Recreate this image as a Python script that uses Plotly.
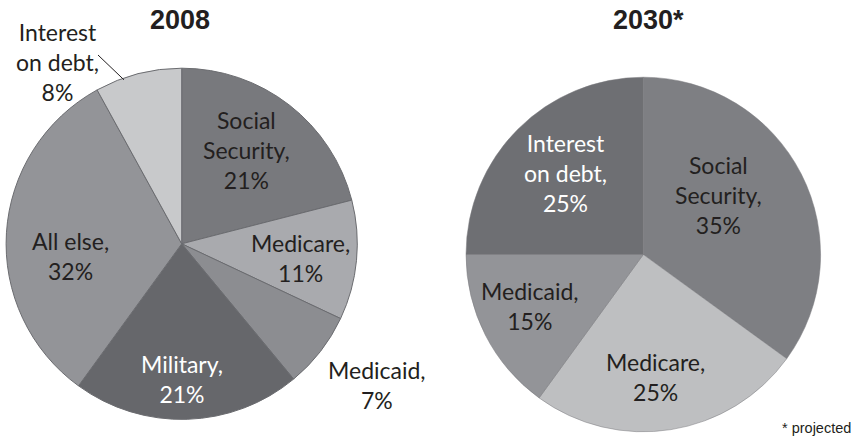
import math
import plotly.graph_objects as go

W, H = 859, 438

# ---- data ----
cats_2008 = ["Social Security", "Medicare", "Medicaid", "Military", "All else", "Interest on debt"]
vals_2008 = [21, 11, 7, 21, 32, 8]
disp_2008 = ["Social<br>Security,", "Medicare,", "Medicaid,", "Military,", "All else,", "Interest<br>on debt,"]

cats_2030 = ["Social Security", "Medicare", "Medicaid", "Interest on debt"]
vals_2030 = [35, 25, 15, 25]
disp_2030 = ["Social<br>Security,", "Medicare,", "Medicaid,", "Interest<br>on debt,"]

titles = ["2008", "2030*"]
footnote = "* projected"

# ---- style ----
colors_2008 = ["#78797d", "#a9aaae", "#8c8d91", "#66676b", "#939498", "#c8c9cb"]
colors_2030 = ["#7e7f83", "#bebfc1", "#939498", "#6e6f73"]
txtcol_2008 = ["#231f20", "#231f20", "#231f20", "#ffffff", "#231f20", "#231f20"]
txtcol_2030 = ["#231f20", "#231f20", "#231f20", "#ffffff"]
# label placement: radial factor and angular offset (deg) relative to slice middle
k_2008 = [0.650, 0.682, 1.371, 0.770, 0.636, 1.256]
off_2008 = [-3.1, 1.2, -1.9, 1.8, -9.9, -20.0]
k_2030 = [0.540, 0.697, 0.702, 0.633]
off_2030 = [-11.4, 3.2, 2.6, 1.2]

# pie geometry in pixels (center x, center y from top, radius)
geo = [(181.7, 243.8, 175.6), (643.3, 254.5, 177.3)]

FONT = "Lato"
FS = 23


def domain(cx, cy, r):
    return dict(x=[(cx - r) / W, (cx + r) / W], y=[1 - (cy + r) / H, 1 - (cy - r) / H])


def polar(cx, cy, r, ang_deg, k):
    a = math.radians(ang_deg)
    px = cx + k * r * math.sin(a)
    py = cy - k * r * math.cos(a)
    return px / W, 1 - py / H


fig = go.Figure()
fig.add_trace(go.Pie(
    labels=cats_2008, values=vals_2008, sort=False, direction="clockwise", rotation=0,
    marker=dict(colors=colors_2008, line=dict(color="#6b6c70", width=1)),
    textinfo="none", hoverinfo="skip", domain=domain(*geo[0]),
))
fig.add_trace(go.Pie(
    labels=cats_2030, values=vals_2030, sort=False, direction="clockwise", rotation=0,
    marker=dict(colors=colors_2030, line=dict(color="#7a7b7f", width=0.5)),
    textinfo="none", hoverinfo="skip", domain=domain(*geo[1]),
))

annotations = []
shapes = []


def add_labels(vals, disp, tcols, ks, offs, g):
    cx, cy, r = g
    total = sum(vals)
    cum = 0
    for v, d, tc, k, off in zip(vals, disp, tcols, ks, offs):
        mid = 360.0 * (cum + v / 2) / total
        cum += v
        x, y = polar(cx, cy, r, mid + off, k)
        annotations.append(dict(
            x=x, y=y, xref="paper", yref="paper", showarrow=False,
            text=f"{d}<br>{v}%", align="center", xanchor="center", yanchor="middle",
            font=dict(family=FONT, size=FS, color=tc),
        ))


add_labels(vals_2008, disp_2008, txtcol_2008, k_2008, off_2008, geo[0])
add_labels(vals_2030, disp_2030, txtcol_2030, k_2030, off_2030, geo[1])

# leader line for the 2008 "Interest on debt" slice
cx, cy, r = geo[0]
mid_int = 360.0 * (sum(vals_2008[:-1]) + vals_2008[-1] / 2) / sum(vals_2008)
ex, ey = polar(cx, cy, r, mid_int - 5, 0.99)
shapes.append(dict(type="line", xref="paper", yref="paper",
                   x0=98 / W, y0=1 - 55 / H, x1=ex, y1=ey,
                   line=dict(color="#231f20", width=1)))

# titles
for t, g in zip(titles, geo):
    annotations.append(dict(
        x=(g[0] - 2 if t == "2008" else g[0] + 5) / W, y=1 - 20 / H, xref="paper", yref="paper",
        showarrow=False, text=f"<b>{t}</b>", xanchor="center", yanchor="middle",
        font=dict(family="Liberation Sans", size=27, color="#231f20"),
    ))

annotations.append(dict(
    x=853 / W, y=1 - 428 / H, xref="paper", yref="paper", showarrow=False,
    text=footnote, xanchor="right", yanchor="middle",
    font=dict(family="Liberation Sans", size=14.5, color="#231f20"),
))

fig.update_layout(
    width=W, height=H, margin=dict(l=0, r=0, t=0, b=0),
    paper_bgcolor="white", plot_bgcolor="white", showlegend=False,
    annotations=annotations, shapes=shapes,
)

fig.write_html("out.html", config={"displayModeBar": False})
